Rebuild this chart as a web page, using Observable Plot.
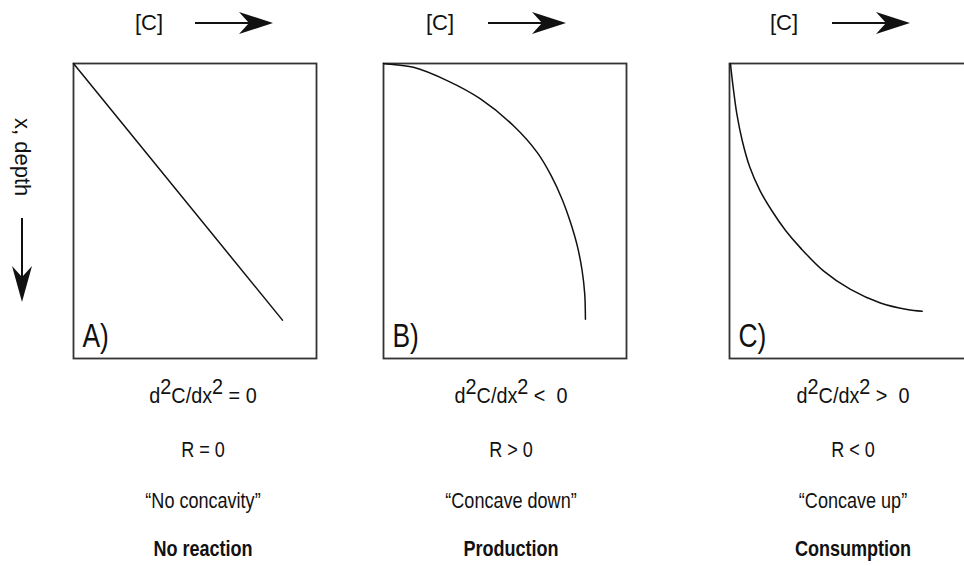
<!DOCTYPE html>
<html>
<head>
<meta charset="utf-8">
<script src="https://cdn.jsdelivr.net/npm/d3@7"></script>
<script src="https://cdn.jsdelivr.net/npm/@observablehq/plot@0.6"></script>
<style>
  html, body { margin: 0; padding: 0; background: #fff; overflow: hidden; }
  #page { position: relative; width: 964px; height: 566px; overflow: hidden; background: #fff;
          font-family: "Liberation Sans", Arial, sans-serif; color: #111; }
  .panel { position: absolute; top: 62px; }
  .lbl { position: absolute; transform: translateX(-50%) scaleX(0.82); white-space: nowrap;
         font-family: "Liberation Sans Narrow", "Arial Narrow", "Liberation Sans", sans-serif;
         font-size: 22px; line-height: 1; }
  .lbl.eq { transform: translateX(-50%) scaleX(0.9); }
  .lbl sup { font-size: 1em; vertical-align: 0.4em; line-height: 0; }
  .bold { font-weight: bold; }
  .conc { position: absolute; font-size: 22px; line-height: 1; white-space: nowrap; }
  svg.deco { position: absolute; left: 0; top: 0; }
</style>
</head>
<body>
<div id="page"></div>
<script>
// ---- data (concentration [C] vs depth x, in percent of panel range) ----
const panels = ["A", "B", "C"];
const panelLetters = ["A)", "B)", "C)"];
// Panel A: straight line, no reaction
const aC = [0, 86];
const aX = [0, 87];
// Panel B: concave down, production
const bC = [0, 0.8, 12.3, 26.2, 39.9, 53.5, 63.3, 69, 73.5, 77, 79.8, 81.7, 82.8, 83.1];
const bX = [0, 0.1, 1.3, 5.8, 12.0, 21.1, 30.2, 38, 46, 54, 62, 70, 78, 86.7];
// Panel C: concave up, consumption
const cC = [0.4, 1.5, 3.0, 5.2, 8.3, 12.5, 17.5, 23, 29.2, 38.8, 49.8, 62.1, 73.1, 79.3];
const cX = [0.1, 8, 17, 26, 35, 43, 50, 56.5, 62.5, 70.4, 76.6, 81.2, 83.4, 84.0];
const equations = ["d<sup>2</sup>C/dx<sup>2</sup> = 0", "d<sup>2</sup>C/dx<sup>2</sup> &lt;&nbsp; 0", "d<sup>2</sup>C/dx<sup>2</sup> &gt;&nbsp; 0"];
const rates = ["R = 0", "R &gt; 0", "R &lt; 0"];
const concavity = ["“No concavity”", "“Concave down”", "“Concave up”"];
const processes = ["No reaction", "Production", "Consumption"];
const topLabel = "[C]";
const sideLabel = "x, depth";

const series = [
  aC.map((c, i) => ({c, x: aX[i]})),
  bC.map((c, i) => ({c, x: bX[i]})),
  cC.map((c, i) => ({c, x: cX[i]}))
];

// ---- layout ----
const lefts = [72, 382, 728];
const boxW = 243, boxH = 295;
const textCenters = [203, 511, 853];
const rowTops = [385, 439, 490, 538];
const conc = [{x: 135, a: 195}, {x: 426, a: 488}, {x: 770, a: 832}];

const page = document.getElementById("page");

panels.forEach((p, i) => {
  const chart = Plot.plot({
    width: boxW + 2, height: boxH + 2,
    marginTop: 1, marginRight: 1, marginBottom: 1, marginLeft: 1,
    x: {domain: [0, 100], axis: null},
    y: {domain: [0, 100], reverse: true, axis: null},
    marks: [
      Plot.frame({stroke: "#333", strokeWidth: 1.8}),
      Plot.line(series[i], {x: "c", y: "x", curve: i === 0 ? "linear" : "catmull-rom", stroke: "#111", strokeWidth: 1.5}),
      Plot.text([panelLetters[i]], {frameAnchor: "bottom-left", dx: 9, dy: -12, fontSize: 33,
        fontFamily: "Liberation Sans, sans-serif", fill: "#111", textAnchor: "start", lineAnchor: "bottom"})
    ]
  });
  chart.classList.add("panel");
  chart.style.left = lefts[i] + "px";
  chart.style.overflow = "visible";
  page.appendChild(chart);
  // condense the panel letter like the narrow face of the original
  chart.querySelectorAll('g[aria-label="text"] text').forEach(t => {
    const bb = t.getBBox();
    const prev = t.getAttribute("transform") || "";
    t.setAttribute("transform", `${prev} translate(${bb.x},0) scale(0.8,1) translate(${-bb.x},0)`);
  });

  [equations[i], rates[i], concavity[i], processes[i]].forEach((t, r) => {
    const d = document.createElement("div");
    d.className = "lbl" + (r === 0 ? " eq" : "") + (r === 3 ? " bold" : "");
    d.innerHTML = t;
    d.style.left = textCenters[i] + "px";
    d.style.top = rowTops[r] + "px";
    page.appendChild(d);
  });

  const c = document.createElement("div");
  c.className = "conc";
  c.textContent = topLabel;
  c.style.left = conc[i].x + "px";
  c.style.top = "12px";
  page.appendChild(c);
});

// decorative arrows and side label
const ns = "http://www.w3.org/2000/svg";
const deco = document.createElementNS(ns, "svg");
deco.setAttribute("class", "deco");
deco.setAttribute("width", 964);
deco.setAttribute("height", 566);
let html = "";
conc.forEach(({a}) => {
  html += `<line x1="${a}" y1="23" x2="${a + 60}" y2="23" stroke="#111" stroke-width="2"/>`;
  html += `<path d="M${a + 78},23 L${a + 44},12 L${a + 54},23 L${a + 44},34 Z" fill="#111"/>`;
});
html += `<line x1="22" y1="218" x2="22" y2="285" stroke="#111" stroke-width="2"/>`;
html += `<path d="M22,302 L12,266 L22,277 L32,266 Z" fill="#111"/>`;
html += `<text x="0" y="0" transform="translate(15,118) rotate(90)" font-family="Liberation Sans, Arial, sans-serif" font-size="22" fill="#111">${sideLabel}</text>`;
deco.innerHTML = html;
page.appendChild(deco);
</script>
</body>
</html>
